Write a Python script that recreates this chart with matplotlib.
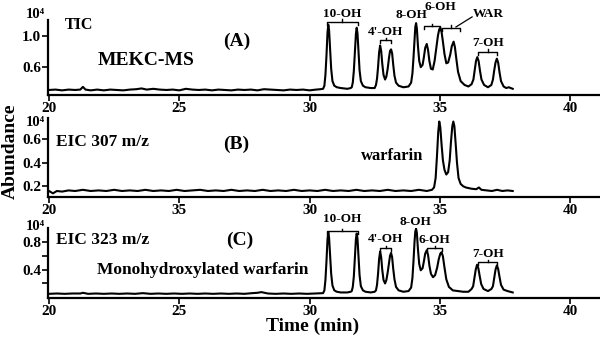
import matplotlib
matplotlib.use("Agg")
import matplotlib.pyplot as plt

plt.rcParams['font.family'] = ['Liberation Serif', 'DejaVu Serif']
plt.rcParams['font.weight'] = 'bold'

# TIC trace (abundance in units of 10^4)
tic_time = [20.0, 20.25, 20.5, 20.75, 21.0, 21.2, 21.3, 21.4, 21.6, 21.85, 22.1, 22.35,
            22.6, 22.85, 23.1, 23.35, 23.55, 23.75, 24.0, 24.25, 24.5, 24.75, 25.0, 25.25,
            25.5, 25.75, 26.0, 26.25, 26.5, 26.75, 27.0, 27.25, 27.5, 27.75, 28.0, 28.25,
            28.5, 28.75, 29.0, 29.25, 29.5, 29.75, 30.0, 30.25, 30.42,
            30.52, 30.57, 30.61, 30.65, 30.69, 30.72, 30.75, 30.79, 30.83, 30.88, 30.95, 31.05,
            31.2, 31.45, 31.58,
            31.62, 31.66, 31.70, 31.74, 31.78, 31.81, 31.84, 31.88, 31.92, 31.97, 32.05, 32.15,
            32.35, 32.5,
            32.55, 32.59, 32.63, 32.67, 32.71, 32.75, 32.79, 32.84, 32.90, 32.95,
            33.00, 33.05, 33.09, 33.13, 33.17, 33.21, 33.26, 33.32, 33.42, 33.6, 33.8,
            33.90, 33.95, 33.99, 34.03, 34.06, 34.09, 34.12, 34.16, 34.21, 34.27,
            34.34, 34.39, 34.44, 34.50, 34.55, 34.60, 34.66, 34.73,
            34.80, 34.87, 34.93, 34.98, 35.02, 35.07, 35.12, 35.18, 35.25,
            35.32, 35.40, 35.46, 35.53, 35.58, 35.63, 35.70, 35.80, 35.95, 36.1, 36.22,
            36.29, 36.34, 36.39, 36.44, 36.49, 36.54, 36.60, 36.7, 36.85, 36.98,
            37.04, 37.09, 37.14, 37.19, 37.24, 37.29, 37.35, 37.45, 37.55, 37.65, 37.8]
tic_abund = [0.305, 0.31, 0.30, 0.31, 0.305, 0.31, 0.345, 0.31, 0.30, 0.31, 0.30, 0.31,
             0.305, 0.30, 0.31, 0.315, 0.325, 0.31, 0.32, 0.31, 0.305, 0.31, 0.30, 0.32,
             0.31, 0.305, 0.31, 0.30, 0.31, 0.305, 0.30, 0.31, 0.305, 0.31, 0.30, 0.315,
             0.31, 0.305, 0.30, 0.31, 0.305, 0.31, 0.30, 0.31, 0.315,
             0.32, 0.36, 0.50, 0.75, 1.05, 1.15, 1.08, 0.84, 0.58, 0.42, 0.36, 0.34,
             0.33, 0.32, 0.33,
             0.34, 0.40, 0.55, 0.80, 1.03, 1.11, 1.04, 0.80, 0.56, 0.42, 0.36, 0.34,
             0.33, 0.33,
             0.37, 0.45, 0.60, 0.79, 0.88, 0.81, 0.65, 0.50, 0.44, 0.48,
             0.58, 0.72, 0.81, 0.83, 0.78, 0.64, 0.49, 0.40, 0.36, 0.34, 0.35,
             0.40, 0.52, 0.72, 0.96, 1.12, 1.17, 1.10, 0.88, 0.68, 0.60,
             0.63, 0.73, 0.85, 0.90, 0.82, 0.68, 0.58, 0.57,
             0.68, 0.86, 1.01, 1.09, 1.11, 1.05, 0.93, 0.77, 0.65,
             0.66, 0.76, 0.87, 0.93, 0.86, 0.72, 0.54, 0.42, 0.37, 0.35, 0.38,
             0.44, 0.56, 0.68, 0.73, 0.68, 0.56, 0.44, 0.37, 0.34, 0.37,
             0.44, 0.56, 0.66, 0.71, 0.66, 0.54, 0.42, 0.35, 0.33, 0.34, 0.32]

# EIC 307 m/z trace (warfarin)
eic307_time = [20.0, 20.15, 20.3, 20.5, 20.75, 21.0, 21.3, 21.6, 21.9, 22.2, 22.5, 22.8,
               23.1, 23.4, 23.7, 24.0, 24.3, 24.6, 24.9, 25.2, 25.5, 25.8, 26.1, 26.4,
               26.7, 27.0, 27.3, 27.6, 27.9, 28.2, 28.5, 28.8, 29.1, 29.4, 29.7, 30.0,
               30.3, 30.6, 30.9, 31.2, 31.5, 31.8, 32.1, 32.4, 32.7, 33.0, 33.3, 33.6,
               33.9, 34.2, 34.5, 34.7,
               34.78, 34.84, 34.89, 34.94, 34.98, 35.02, 35.07, 35.12, 35.18, 35.25, 35.32,
               35.38, 35.43, 35.48, 35.52, 35.56, 35.61, 35.66, 35.72, 35.80, 35.9, 36.0,
               36.2, 36.4, 36.5, 36.6, 36.8, 37.0, 37.2, 37.4, 37.6, 37.8]
eic307_abund = [0.16, 0.14, 0.16, 0.155, 0.165, 0.16, 0.17, 0.16, 0.165, 0.16, 0.17, 0.16,
                0.165, 0.16, 0.17, 0.16, 0.165, 0.16, 0.17, 0.16, 0.165, 0.17, 0.16, 0.165,
                0.16, 0.17, 0.16, 0.165, 0.16, 0.17, 0.16, 0.165, 0.16, 0.17, 0.16, 0.165,
                0.16, 0.17, 0.16, 0.165, 0.16, 0.17, 0.16, 0.165, 0.16, 0.17, 0.16, 0.165,
                0.16, 0.17, 0.16, 0.17,
                0.19, 0.27, 0.45, 0.66, 0.75, 0.70, 0.55, 0.42, 0.34, 0.30, 0.32,
                0.42, 0.58, 0.71, 0.75, 0.71, 0.56, 0.40, 0.27, 0.22, 0.20, 0.19,
                0.18, 0.175, 0.19, 0.17, 0.165, 0.16, 0.17, 0.16, 0.165, 0.16]

# EIC 323 m/z trace (monohydroxylated warfarin)
eic323_time = [20.0, 20.3, 20.6, 20.9, 21.2, 21.3, 21.5, 21.8, 22.1, 22.4, 22.7, 23.0,
               23.3, 23.6, 23.9, 24.2, 24.5, 24.8, 25.1, 25.4, 25.7, 26.0, 26.3, 26.6,
               26.9, 27.2, 27.5, 27.8, 28.0, 28.15, 28.4, 28.7, 29.0, 29.3, 29.6, 29.9,
               30.2, 30.42,
               30.52, 30.57, 30.61, 30.65, 30.69, 30.72, 30.75, 30.79, 30.83, 30.88, 30.95, 31.05,
               31.2, 31.45, 31.58,
               31.62, 31.66, 31.70, 31.74, 31.78, 31.81, 31.84, 31.88, 31.92, 31.97, 32.05, 32.15,
               32.35, 32.5,
               32.55, 32.59, 32.63, 32.67, 32.71, 32.75, 32.79, 32.84, 32.90, 32.95,
               33.00, 33.05, 33.09, 33.13, 33.17, 33.21, 33.26, 33.32, 33.42, 33.6, 33.8,
               33.90, 33.95, 33.99, 34.03, 34.06, 34.09, 34.12, 34.16, 34.21, 34.27,
               34.34, 34.39, 34.44, 34.50, 34.55, 34.60, 34.66, 34.74, 34.82,
               34.90, 34.96, 35.02, 35.07, 35.12, 35.18, 35.25, 35.35, 35.5, 35.7, 35.9, 36.1, 36.22,
               36.28, 36.33, 36.38, 36.43, 36.48, 36.53, 36.59, 36.68, 36.85, 36.98,
               37.04, 37.09, 37.14, 37.19, 37.24, 37.29, 37.35, 37.45, 37.6, 37.8]
eic323_abund = [0.05, 0.055, 0.05, 0.055, 0.055, 0.065, 0.05, 0.055, 0.05, 0.055, 0.05, 0.055,
                0.05, 0.06, 0.05, 0.055, 0.05, 0.055, 0.05, 0.055, 0.05, 0.055, 0.05, 0.055,
                0.05, 0.055, 0.05, 0.06, 0.065, 0.075, 0.055, 0.05, 0.055, 0.05, 0.055, 0.05,
                0.055, 0.06,
                0.06, 0.10, 0.25, 0.52, 0.84, 0.94, 0.86, 0.60, 0.34, 0.17, 0.10, 0.08,
                0.07, 0.07, 0.08,
                0.09, 0.15, 0.30, 0.57, 0.84, 0.92, 0.85, 0.58, 0.32, 0.16, 0.10, 0.08,
                0.07, 0.08,
                0.10, 0.18, 0.34, 0.55, 0.66, 0.58, 0.40, 0.25, 0.20, 0.25,
                0.36, 0.50, 0.60, 0.64, 0.58, 0.42, 0.26, 0.15, 0.10, 0.08, 0.09,
                0.14, 0.28, 0.52, 0.80, 0.95, 0.99, 0.93, 0.70, 0.48, 0.39,
                0.42, 0.52, 0.63, 0.68, 0.61, 0.46, 0.34, 0.29, 0.32,
                0.43, 0.55, 0.63, 0.65, 0.59, 0.43, 0.26, 0.15, 0.10, 0.09, 0.08, 0.08, 0.12,
                0.16, 0.28, 0.40, 0.47, 0.42, 0.31, 0.19, 0.12, 0.09, 0.12,
                0.16, 0.28, 0.40, 0.46, 0.41, 0.30, 0.18, 0.11, 0.09, 0.07]

x_ticks = [20, 25, 30, 35, 40]
x_labels_a = ['20', '25', '30', '35', '40']
x_labels_b = ['20', '35', '30', '35', '40']   # as printed in the original
x_labels_c = ['20', '25', '30', '35', '40']

W, H = 600, 343
fig = plt.figure(figsize=(6, 3.43), dpi=100)


def make_axes(top_px, bottom_px):
    ax = fig.add_axes([48 / W, 1 - bottom_px / H, 552 / W, (bottom_px - top_px) / H])
    for s in ['top', 'right']:
        ax.spines[s].set_visible(False)
    for s in ['left', 'bottom']:
        ax.spines[s].set_linewidth(1.6)
    ax.tick_params(direction='out', length=4, width=1.2, labelsize=11, pad=1)
    ax.set_xlim(19.96, 41.15)
    return ax


def bracket(ax, x0, x1, y, d=0.04):
    xm = (x0 + x1) / 2
    ax.plot([x0, x0, x1, x1], [y - d, y, y, y - d], color='black', lw=1, clip_on=False)
    ax.plot([xm, xm], [y, y + d * 0.8], color='black', lw=1, clip_on=False)


lab = dict(fontsize=9.5, fontweight='bold', ha='center', va='center', clip_on=False)
big = dict(fontsize=14, fontweight='bold', ha='center', va='center')

# Panel A: TIC
axA = make_axes(20, 95)
axA.plot(tic_time, tic_abund, color='black', lw=1.5)
axA.set_ylim(0.24, 1.21)
axA.set_yticks([0.6, 1.0])
axA.set_yticklabels(['0.6', '1.0'])
axA.set_xticks(x_ticks)
axA.set_xticklabels(x_labels_a)
axA.text(20.6, 1.15, 'TIC', fontsize=11.5, fontweight='bold', va='center')
axA.text(27.2, 0.93, '(A)', **big)
axA.text(21.85, 0.68, 'MEKC-MS', fontsize=14, fontweight='bold', va='center')
bracket(axA, 30.67, 31.86, 1.19)
axA.text(31.25, 1.29, '10-OH', **lab)
bracket(axA, 32.71, 33.13, 0.95)
axA.text(32.92, 1.05, "4'-OH", **lab)
axA.text(33.9, 1.28, '8-OH', **lab)
bracket(axA, 34.40, 35.01, 1.13)
axA.text(35.01, 1.375, '6-OH', **lab)
bracket(axA, 35.09, 35.78, 1.11)
axA.plot([35.62, 36.24], [1.12, 1.25], color='black', lw=0.9, clip_on=False)
axA.text(36.85, 1.29, 'WAR', **lab)
bracket(axA, 36.47, 37.20, 0.80)
axA.text(36.85, 0.91, '7-OH', **lab)

# Panel B: EIC 307
axB = make_axes(118, 197)
axB.plot(eic307_time, eic307_abund, color='black', lw=1.5)
axB.set_ylim(0.109, 0.78)
axB.set_yticks([0.2, 0.4, 0.6])
axB.set_yticklabels(['0.2', '0.4', '0.6'])
axB.set_xticks(x_ticks)
axB.set_xticklabels(x_labels_b)
axB.text(20.27, 0.58, 'EIC 307 m/z', fontsize=12.5, fontweight='bold', va='center')
axB.text(27.2, 0.555, '(B)', **big)
axB.text(33.17, 0.46, 'warfarin', fontsize=12, fontweight='bold', ha='center', va='center')

# Panel C: EIC 323
axC = make_axes(228, 298)
axC.plot(eic323_time, eic323_abund, color='black', lw=1.5)
axC.set_ylim(-0.01, 1.0)
axC.set_yticks([0.2, 0.4, 0.6, 0.8])
axC.set_yticklabels(['', '0.4', '', '0.8'])
axC.set_xticks(x_ticks)
axC.set_xticklabels(x_labels_c)
axC.text(20.27, 0.82, 'EIC 323 m/z', fontsize=12.5, fontweight='bold', va='center')
axC.text(27.33, 0.82, '(C)', **big)
axC.text(21.85, 0.40, 'Monohydroxylated warfarin', fontsize=12.5, fontweight='bold', va='center')
bracket(axC, 30.67, 31.86, 0.95)
axC.text(31.25, 1.135, '10-OH', **lab)
bracket(axC, 32.71, 33.13, 0.71)
axC.text(32.92, 0.84, "4'-OH", **lab)
axC.text(34.05, 1.08, '8-OH', **lab)
bracket(axC, 34.51, 35.09, 0.71)
axC.text(34.80, 0.82, '6-OH', **lab)
bracket(axC, 36.47, 37.20, 0.51)
axC.text(36.85, 0.63, '7-OH', **lab)

# 10^4 scale markers
for py in [15, 122, 226]:
    fig.text(35 / W, 1 - py / H, '10\u2074', fontsize=10.5, fontweight='bold', ha='center', va='center')

fig.text(10 / W, 1 - 151 / H, 'Abundance', rotation=90, fontsize=14, fontweight='bold',
         ha='center', va='center')
fig.text(313 / W, 1 - 326 / H, 'Time (min)', fontsize=14, fontweight='bold',
         ha='center', va='center')

fig.savefig('out.png', dpi=100)
